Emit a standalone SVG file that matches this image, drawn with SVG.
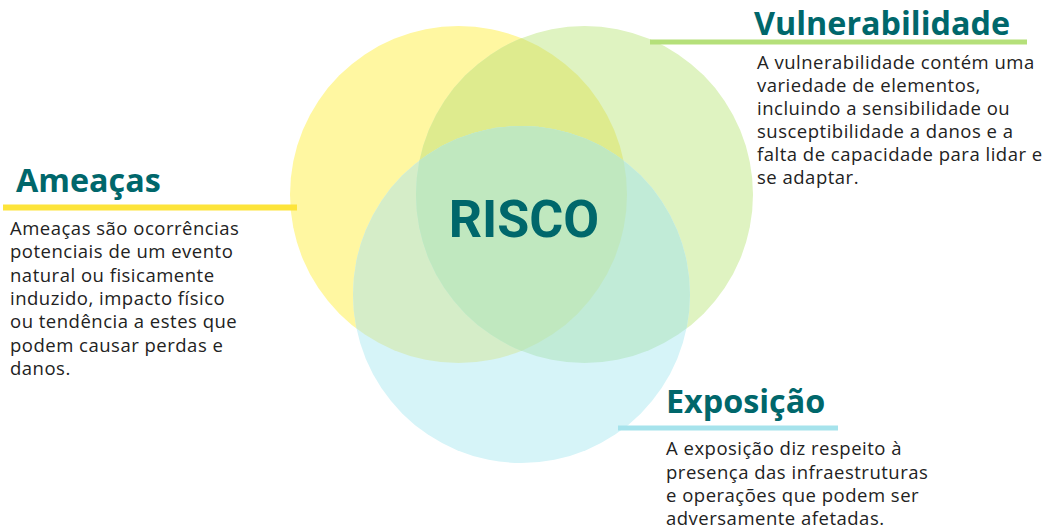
<svg xmlns="http://www.w3.org/2000/svg" width="1048" height="529" viewBox="0 0 1048 529">
<style>
.h{font-family:"Open Sans",sans-serif;font-weight:700;font-size:32.3px;fill:#00676b}
.b{font-family:"Open Sans",sans-serif;font-size:18.5px;letter-spacing:0.5px;fill:#222}
.r{font-family:Roboto,sans-serif;font-weight:700;font-size:52px;fill:#00676b}
</style>
<defs>
<clipPath id="cy"><circle cx="458.5" cy="194.5" r="168.5"/></clipPath>
<clipPath id="cg"><circle cx="584.5" cy="194.5" r="168.5"/></clipPath>
</defs>
<rect width="1048" height="529" fill="#fff"/>
<g id="circles">
<circle cx="458.5" cy="194.5" r="168.5" fill="#fff7a1"/>
<circle cx="584.5" cy="194.5" r="168.5" fill="#dff3c1"/>
<circle cx="521.5" cy="294.5" r="168.5" fill="#d6f4f8"/>
<circle cx="584.5" cy="194.5" r="168.5" fill="#deeb8e" clip-path="url(#cy)"/>
<circle cx="521.5" cy="294.5" r="168.5" fill="#d5edc8" clip-path="url(#cy)"/>
<circle cx="521.5" cy="294.5" r="168.5" fill="#c1ebd7" clip-path="url(#cg)"/>
<g clip-path="url(#cg)"><circle cx="521.5" cy="294.5" r="168.5" fill="#c0e8bf" clip-path="url(#cy)"/></g>
</g>
<g id="risco"><text class="r" x="524" y="237" text-anchor="middle">RISCO</text></g>
<g id="connectors">
<line x1="3" y1="207.5" x2="297" y2="207.5" stroke="#fde43a" stroke-width="6"/>
<line x1="650" y1="42" x2="1027" y2="42" stroke="#b5e07a" stroke-width="5"/>
<line x1="618" y1="428" x2="838" y2="428" stroke="#a6e3ec" stroke-width="5"/>
</g>
<g id="ameacas">
<text class="h" x="16" y="192">Ameaças</text>
<text class="b" x="10" y="235">Ameaças são ocorrências</text>
<text class="b" x="10" y="258">potenciais de um evento</text>
<text class="b" x="10" y="281.5">natural ou fisicamente</text>
<text class="b" x="10" y="305">induzido, impacto físico</text>
<text class="b" x="10" y="328">ou tendência a estes que</text>
<text class="b" x="10" y="351.5">podem causar perdas e</text>
<text class="b" x="10" y="375">danos.</text>
</g>
<g id="vulnerabilidade">
<text class="h" x="754" y="35">Vulnerabilidade</text>
<text class="b" x="757" y="68.5">A vulnerabilidade contém uma</text>
<text class="b" x="757" y="91.5">variedade de elementos,</text>
<text class="b" x="757" y="114.5">incluindo a sensibilidade ou</text>
<text class="b" x="757" y="137.5">susceptibilidade a danos e a</text>
<text class="b" x="757" y="160.5">falta de capacidade para lidar e</text>
<text class="b" x="757" y="183.5">se adaptar.</text>
</g>
<g id="exposicao">
<text class="h" x="666" y="413">Exposição</text>
<text class="b" x="666" y="455">A exposição diz respeito à</text>
<text class="b" x="666" y="478.5">presença das infraestruturas</text>
<text class="b" x="666" y="501.5">e operações que podem ser</text>
<text class="b" x="666" y="524.5">adversamente afetadas.</text>
</g>
</svg>
